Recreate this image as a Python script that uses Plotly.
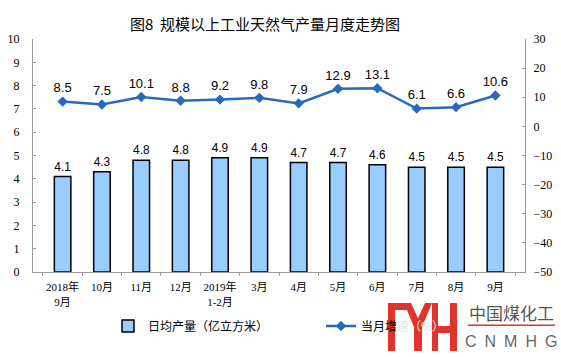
import plotly.graph_objects as go

categories = ["2018年<br>9月", "10月", "11月", "12月", "2019年<br>1-2月", "3月", "4月",
              "5月", "6月", "7月", "8月", "9月"]
daily_output = [4.1, 4.3, 4.8, 4.8, 4.9, 4.9, 4.7, 4.7, 4.6, 4.5, 4.5, 4.5]
growth_rate = [8.5, 7.5, 10.1, 8.8, 9.2, 9.8, 7.9, 12.9, 13.1, 6.1, 6.6, 10.6]
left_ticks = list(range(0, 11))
right_ticks = list(range(-50, 31, 10))

W, H = 561, 357
L, R, T, B = 33, 36, 39, 85
PW, PH = W - L - R, H - T - B


def px(x):
    return (x - L) / PW


def py(y):
    return (H - B - y) / PH


CJK = "Noto Sans CJK SC"
SERIF = "Liberation Serif, " + CJK
SANS = "Liberation Sans, Arial, " + CJK

fig = go.Figure()
fig.add_trace(go.Bar(
    x=categories, y=daily_output, name="日均产量（亿立方米）",
    marker=dict(color="#99CCFF", line=dict(color="#000000", width=1.5)),
    width=0.42,
    text=[f"{v:.1f}" for v in daily_output], textposition="outside",
    textfont=dict(family=SANS, size=13, color="#000000"), cliponaxis=False,
))
fig.add_trace(go.Scatter(
    x=categories, y=growth_rate, yaxis="y2", name="当月增<span style='color:#e4e4e4'>速（%）</span>",
    mode="lines+markers+text",
    line=dict(color="#2769BE", width=2.5),
    marker=dict(symbol="diamond", size=8, color="#2769BE"),
    text=[f"{v:.1f}" for v in growth_rate], textposition="top center",
    textfont=dict(family=SANS, size=13, color="#000000"), cliponaxis=False,
))

axis_col = "#9a9a9a"
fig.update_layout(
    width=W, height=H,
    margin=dict(l=L, r=R, t=T, b=B, pad=0, autoexpand=False),
    paper_bgcolor="white", plot_bgcolor="white",
    showlegend=True,
    title=dict(text="图8  规模以上工业天然气产量月度走势图", x=px(265), xref="paper",
               xanchor="center", y=1 - 25 / H, yanchor="middle",
               font=dict(family=CJK, size=15, color="#000000")),
    xaxis=dict(type="category", showline=True, linecolor=axis_col, linewidth=1,
               ticks="outside", ticklen=3, tickcolor=axis_col, tickson="boundaries",
               tickangle=0, ticklabelstandoff=5,
               tickfont=dict(family=SERIF, size=11, color="#000000"),
               showgrid=False, zeroline=False),
    yaxis=dict(range=[0, 10], tickvals=left_ticks, showline=True, linecolor=axis_col,
               ticks="inside", ticklen=3, tickcolor=axis_col, ticklabelstandoff=10,
               tickfont=dict(family=SERIF, size=12, color="#000000"),
               showgrid=False, zeroline=False),
    yaxis2=dict(range=[-50, 30], tickvals=right_ticks, overlaying="y", side="right",
                showline=True, linecolor=axis_col, ticks="inside", ticklen=3,
                tickcolor=axis_col, ticklabelstandoff=5,
                tickfont=dict(family=SERIF, size=12, color="#000000"),
                showgrid=False, zeroline=False),
    legend=dict(orientation="h", x=px(108), xanchor="left", y=py(326), yanchor="middle",
                font=dict(family=CJK, size=12, color="#000000"),
                bgcolor="rgba(0,0,0,0)", entrywidth=168, itemwidth=30),
)

# watermark logo
red = "#E2332A"
rects = [
    (388, 303, 395, 351),   # left vertical
    (388, 303, 410, 310),   # top bar
    (414, 326, 422, 351),   # Y stem
    (432, 303, 438, 351),   # H left
    (450, 303, 457, 351),   # H right
    (436, 326, 452, 333),   # H crossbar
    (468, 324.5, 555, 326),  # red rule
]
shapes = []
for x0, y0, x1, y1 in rects:
    shapes.append(dict(type="rect", xref="paper", yref="paper", x0=px(x0), x1=px(x1),
                       y0=py(y1), y1=py(y0), fillcolor=red, line=dict(width=0), layer="above"))
# Y arms
for pts in [[(404, 303), (411, 303), (422, 327), (414, 327)],
            [(425, 303), (432, 303), (422, 327), (414, 327)]]:
    path = "M " + " L ".join(f"{px(a)},{py(b)}" for a, b in pts) + " Z"
    shapes.append(dict(type="path", xref="paper", yref="paper", path=path,
                       fillcolor=red, line=dict(width=0), layer="above"))
fig.update_layout(shapes=shapes)
fig.add_annotation(text="中国煤化工", x=px(511), y=py(312), xref="paper", yref="paper",
                   showarrow=False, xanchor="center", yanchor="middle",
                   font=dict(family=CJK, size=17, color="#555555"))
fig.add_annotation(text="C\u2002N\u2002M\u2002H\u2002G", x=px(511), y=py(341), xref="paper", yref="paper",
                   showarrow=False, xanchor="center", yanchor="middle",
                   font=dict(family="Liberation Sans", size=16, color="#666666"))

fig.write_html("out.html", config={"displayModeBar": False},
               post_script="document.body.style.margin='0';")
